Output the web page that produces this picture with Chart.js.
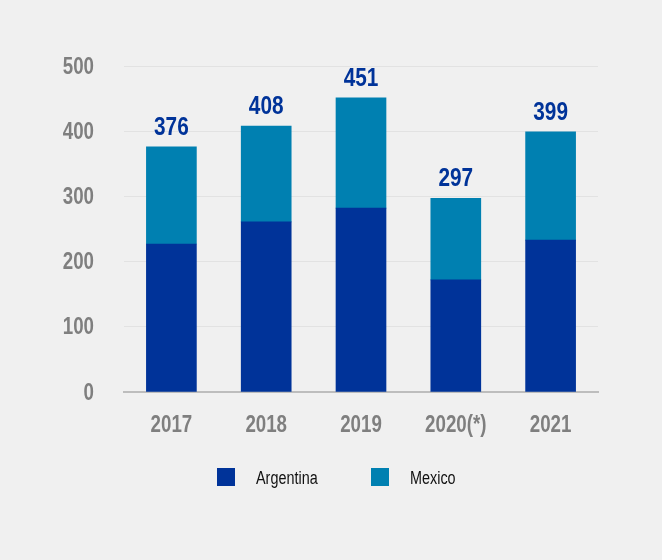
<!DOCTYPE html>
<html>
<head>
<meta charset="utf-8">
<script src="https://cdn.jsdelivr.net/npm/chart.js@4.4.1/dist/chart.umd.min.js"></script>
<style>
html,body{margin:0;padding:0;background:#f0f0f0;}
#wrap{width:662px;height:560px;position:relative;}
</style>
</head>
<body>
<div id="wrap"><canvas id="c" width="662" height="560"></canvas></div>
<script>
const categories = ['2017', '2018', '2019', '2020(*)', '2021'];
const argentina = [227, 261, 282, 172, 233];
const mexico = [149, 147, 169, 125, 166];
const totals = [376, 408, 451, 297, 399];
const yTicks = [0, 100, 200, 300, 400, 500];

const FONT = "'Liberation Sans', Arial, Helvetica, sans-serif";
const colArg = '#003399';
const colMex = '#0080b1';

// draw horizontally condensed text (mimics a narrow typeface)
function narrowText(ctx, text, x, y, font, color, align, baseline, squeeze) {
  ctx.save();
  ctx.font = font;
  ctx.fillStyle = color;
  ctx.textAlign = align;
  ctx.textBaseline = baseline;
  ctx.translate(x, y);
  ctx.scale(squeeze, 1);
  ctx.fillText(text, 0, 0);
  ctx.restore();
}

const bgPlugin = {
  id: 'bg',
  beforeDraw(chart) {
    const ctx = chart.ctx;
    ctx.save();
    ctx.fillStyle = '#f0f0f0';
    ctx.fillRect(0, 0, chart.width, chart.height);
    ctx.restore();
  }
};

const textPlugin = {
  id: 'texts',
  afterDraw(chart) {
    const ctx = chart.ctx;
    const xs = chart.scales.x, ys = chart.scales.y;
    // y tick labels
    ys.ticks.forEach(t => {
      narrowText(ctx, String(t.value), 94, ys.getPixelForValue(t.value) + 1,
        "bold 24px " + FONT, '#7f7f7f', 'right', 'middle', 0.78);
    });
    // x tick labels
    categories.forEach((c, i) => {
      narrowText(ctx, c, xs.getPixelForTick(i), 432,
        "bold 24px " + FONT, '#7f7f7f', 'center', 'alphabetic', 0.78);
    });
    // totals
    const meta = chart.getDatasetMeta(1);
    meta.data.forEach((bar, i) => {
      narrowText(ctx, String(totals[i]), bar.x, bar.y - 12,
        "bold 26px " + FONT, '#003399', 'center', 'alphabetic', 0.8);
    });
    // legend
    const positions = [217, 371];
    const ly = 468;
    chart.data.datasets.forEach((ds, i) => {
      ctx.save();
      ctx.fillStyle = ds.backgroundColor;
      ctx.fillRect(positions[i], ly, 18, 18);
      ctx.restore();
      narrowText(ctx, ds.label, positions[i] + 39, ly + 16,
        "18px " + FONT, '#111111', 'left', 'alphabetic', 0.8);
    });
  }
};

new Chart(document.getElementById('c'), {
  type: 'bar',
  data: {
    labels: categories,
    datasets: [
      { label: 'Argentina', data: argentina, backgroundColor: colArg, barThickness: 50 },
      { label: 'Mexico', data: mexico, backgroundColor: colMex, barThickness: 50 }
    ]
  },
  options: {
    responsive: false,
    animation: false,
    devicePixelRatio: 1,
    layout: { padding: { top: 66, right: 64, left: 0, bottom: 108 } },
    plugins: {
      legend: { display: false },
      tooltip: { enabled: false }
    },
    scales: {
      x: {
        stacked: true,
        grid: { display: false, drawTicks: false },
        border: { display: true, color: '#bdbdbd', width: 2 },
        ticks: { display: false },
        afterFit(scale) { scale.height = 60; }
      },
      y: {
        stacked: true,
        min: 0,
        max: 500,
        afterBuildTicks(scale) { scale.ticks = yTicks.map(v => ({ value: v })); },
        grid: { color: '#e2e2e2', lineWidth: 1, drawTicks: false },
        border: { display: false },
        ticks: { display: false },
        afterFit(scale) { scale.width = 124; }
      }
    }
  },
  plugins: [bgPlugin, textPlugin]
});
</script>
</body>
</html>
